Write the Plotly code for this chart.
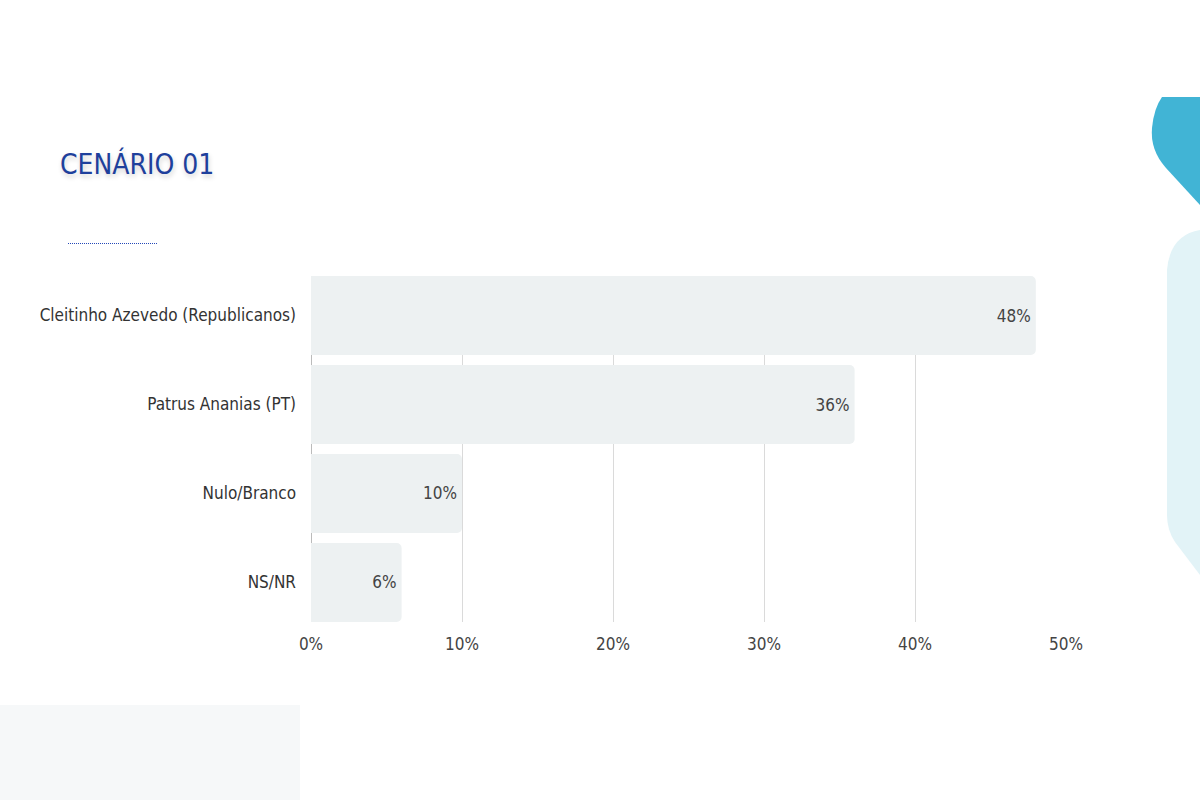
import plotly.graph_objects as go

categories = ["Cleitinho Azevedo (Republicanos)", "Patrus Ananias (PT)", "Nulo/Branco", "NS/NR"]
values = [48, 36, 10, 6]
value_labels = ["48%", "36%", "10%", "6%"]
tick_vals = [0, 10, 20, 30, 40, 50]
tick_text = ["0%", "10%", "20%", "30%", "40%", "50%"]
title_text = "CENÁRIO 01"

FONT = "DejaVu Sans Condensed, Liberation Sans Narrow, Roboto, sans-serif"

L, R, T, B = 311, 1066, 276, 622
W, H = 1200, 800

def px(x):
    return (x - L) / (R - L)

def py(y):
    return (B - y) / (B - T)

fig = go.Figure()
fig.add_trace(go.Bar(
    y=categories, x=values, orientation="h",
    width=0.888,
    marker=dict(color="#EDF1F2", line=dict(width=0), cornerradius=5),
    text=value_labels, textposition="inside", insidetextanchor="end",
    textfont=dict(family=FONT, size=17, color="#444444"),
    hoverinfo="skip",
))

shapes = []
# top-right blue shape
path1 = (f"M {px(1162)},{py(97)} L {px(1200)},{py(97)} L {px(1200)},{py(205)} "
         f"L {px(1166)},{py(168)} Q {px(1150)},{py(150)} {px(1152)},{py(128)} "
         f"Q {px(1154)},{py(108)} {px(1162)},{py(97)} Z")
shapes.append(dict(type="path", xref="paper", yref="paper", path=path1,
                   fillcolor="#41B4D5", line=dict(width=0), layer="below"))
# light cyan shape
path2 = (f"M {px(1200)},{py(230)} Q {px(1170)},{py(235)} {px(1167)},{py(270)} "
         f"L {px(1167)},{py(515)} Q {px(1167)},{py(530)} {px(1175)},{py(542)} "
         f"L {px(1200)},{py(575)} Z")
shapes.append(dict(type="path", xref="paper", yref="paper", path=path2,
                   fillcolor="#E2F3F7", line=dict(width=0), layer="below"))
# dotted line under title
shapes.append(dict(type="line", xref="paper", yref="paper",
                   x0=px(68), x1=px(157), y0=py(243.5), y1=py(243.5),
                   line=dict(color="#2448B8", width=1.2, dash="1px,1px")))
# faint blurred bottom hint
shapes.append(dict(type="rect", xref="paper", yref="paper",
                   x0=px(0), x1=px(300), y0=py(800), y1=py(705),
                   fillcolor="rgba(225,233,235,0.3)", line=dict(width=0), layer="below"))

fig.update_layout(
    width=W, height=H,
    margin=dict(l=L, r=W - R, t=T, b=H - B),
    paper_bgcolor="white", plot_bgcolor="white",
    showlegend=False,
    bargap=0.112,
    shapes=shapes,
    annotations=[dict(
        text=title_text, xref="paper", yref="paper",
        x=px(58), y=py(164), xanchor="left", yanchor="middle", showarrow=False,
        font=dict(family=FONT, size=28, color="#1E409C",
                  shadow="1px 3px 5px rgba(0,0,0,0.18)"),
    )],
    xaxis=dict(
        range=[0, 50], tickvals=tick_vals, ticktext=tick_text,
        showgrid=True, gridcolor="#DADADA", gridwidth=1,
        zeroline=True, zerolinecolor="#BBBBBB", zerolinewidth=1,
        showline=False, ticks="", ticklabelstandoff=10,
        tickfont=dict(family=FONT, size=17, color="#444444"),
        fixedrange=True,
    ),
    yaxis=dict(
        autorange=False, range=[3.444, -0.444],
        showgrid=False, zeroline=False, showline=False, ticks="",
        ticklabelstandoff=14,
        tickfont=dict(family=FONT, size=17, color="#333333"),
        fixedrange=True,
    ),
)

fig.write_html("out.html")
